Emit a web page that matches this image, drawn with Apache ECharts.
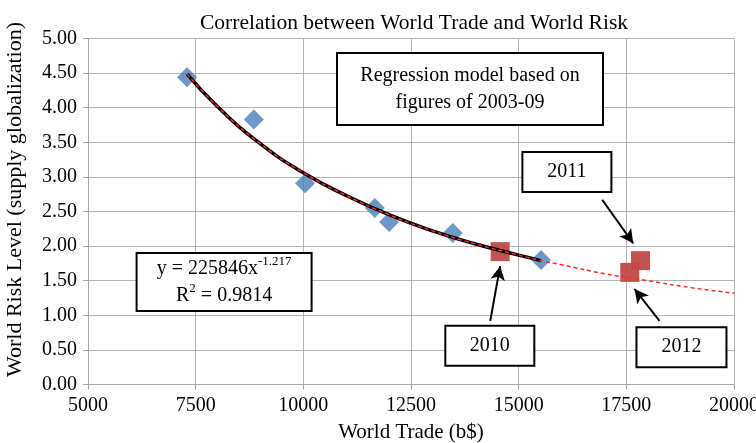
<!DOCTYPE html>
<html>
<head>
<meta charset="utf-8">
<script src="https://cdn.jsdelivr.net/npm/echarts@6/dist/echarts.min.js"></script>
<style>
  html, body { margin: 0; padding: 0; background: #fff; }
  #main { width: 756px; height: 443px; }
</style>
</head>
<body>
<div id="main"></div>
<script>
// observed points 2003-09 (world trade b$, risk level)
var tradeObs = [7300, 8850, 10040, 11660, 11990, 13470, 15520];
var riskObs = [4.44, 3.83, 2.91, 2.55, 2.35, 2.19, 1.80];

// later years
var newYears = ['2010', '2011', '2012'];
var tradeNew = [14570, 17830, 17580];
var riskNew = [1.92, 1.79, 1.62];

// fitted curve y = 225846x^-1.217
var fitX = [7300, 8000, 9000, 10000, 11000, 12000, 13000, 14000, 15000, 15520];
var fitY = [4.49, 4.02, 3.48, 3.06, 2.73, 2.45, 2.22, 2.03, 1.87, 1.79];
var extX = [15520, 16000, 17000, 18000, 19000, 20000];
var extY = [1.79, 1.73, 1.60, 1.50, 1.40, 1.32];

var xTicks = [5000, 7500, 10000, 12500, 15000, 17500, 20000];

var serif = '"Liberation Serif", "DejaVu Serif", serif';

function zip(a, b) {
  return a.map(function (v, i) { return [v, b[i]]; });
}

var myChart = echarts.init(document.getElementById('main'));

var option = {
  backgroundColor: '#fff',
  animation: false,
  title: {
    text: 'Correlation between World Trade and World Risk',
    left: 409,
    textAlign: 'center',
    top: 7,
    textStyle: { fontFamily: serif, fontSize: 21.5, fontWeight: 'normal', color: '#000' }
  },
  grid: { left: 88, right: 22, top: 38.5, bottom: 58.5, containLabel: false, outerBoundsMode: 'none' },
  xAxis: {
    type: 'value',
    min: xTicks[0],
    max: xTicks[xTicks.length - 1],
    interval: 2500,
    name: 'World Trade (b$)',
    nameLocation: 'middle',
    nameGap: 37,
    nameTextStyle: { fontFamily: serif, fontSize: 21, color: '#000' },
    axisLine: { show: true, lineStyle: { color: '#a6a6a6' } },
    axisTick: { show: true, length: 5, lineStyle: { color: '#a6a6a6' } },
    axisLabel: {
      fontFamily: serif, fontSize: 20, color: '#000', margin: 11,
      formatter: function (v) { return String(v); }
    },
    splitLine: { show: true, lineStyle: { color: '#b3b3b3' } }
  },
  yAxis: {
    type: 'value',
    min: 0,
    max: 5,
    interval: 0.5,
    name: 'World Risk Level (supply globalization)',
    nameLocation: 'middle',
    nameGap: 62,
    nameTextStyle: { fontFamily: serif, fontSize: 22, color: '#000', padding: [0, 0, 0, 24] },
    axisLine: { show: true, lineStyle: { color: '#a6a6a6' } },
    axisTick: { show: true, length: 5, lineStyle: { color: '#a6a6a6' } },
    axisLabel: {
      fontFamily: serif, fontSize: 20, color: '#000', margin: 11,
      formatter: function (v) { return v.toFixed(2); }
    },
    splitLine: { show: true, lineStyle: { color: '#b3b3b3' } }
  },
  series: [
    {
      name: '2003-09',
      type: 'scatter',
      symbol: 'diamond',
      symbolSize: [20, 20],
      itemStyle: { color: '#4a7ebb' },
      data: zip(tradeObs, riskObs),
      z: 2
    },
    {
      name: '2010-12',
      type: 'scatter',
      symbol: 'rect',
      symbolSize: 19,
      itemStyle: { color: '#be4b48', opacity: 0.95 },
      data: zip(tradeNew, riskNew),
      z: 2,
      markLine: {
        silent: true,
        symbol: ['none', 'arrow'],
        symbolSize: [11, 14],
        label: { show: false },
        lineStyle: { color: '#000', width: 2, type: 'solid' },
        data: [
          [{ coord: [14340, 0.92] }, { coord: [14570, 1.71] }],
          [{ coord: [16940, 2.67] }, { coord: [17660, 2.04] }],
          [{ coord: [18270, 0.92] }, { coord: [17690, 1.38] }]
        ]
      }
    },
    {
      name: 'fit',
      type: 'line',
      smooth: true,
      showSymbol: false,
      lineStyle: { color: '#000', width: 3.5 },
      data: zip(fitX, fitY),
      z: 3
    },
    {
      name: 'fit-red',
      type: 'line',
      smooth: true,
      showSymbol: false,
      lineStyle: { color: '#ff2a2a', width: 1.5, type: [4, 3] },
      data: zip(fitX, fitY).concat(zip(extX, extY).slice(1)),
      z: 4
    }
  ]
};

myChart.setOption(option);

// annotation boxes, placed from data coordinates
function box(cx, cy, w, h, content, rich) {
  var p = myChart.convertToPixel({ gridIndex: 0 }, [cx, cy]);
  return {
    type: 'group',
    x: p[0] - w / 2,
    y: p[1] - h / 2,
    z: 100,
    children: [
      {
        type: 'rect',
        shape: { x: 0, y: 0, width: w, height: h },
        style: { fill: '#fff', stroke: '#000', lineWidth: 2 }
      },
      {
        type: 'text',
        x: w / 2,
        y: h / 2,
        style: {
          text: content,
          rich: rich || {},
          fontFamily: serif,
          fontSize: 20,
          lineHeight: 27,
          fill: '#000',
          align: 'center',
          verticalAlign: 'middle'
        }
      }
    ]
  };
}

var supRich = {
  sup: { fontFamily: serif, fontSize: 13, verticalAlign: 'top', padding: [0, 0, 9, 0] },
  n: { fontFamily: serif, fontSize: 20 }
};

myChart.setOption({
  graphic: [
    box(13870, 4.27, 266, 72, 'Regression model based on\nfigures of 2003-09'),
    box(8160, 1.48, 175, 58,
      '{n|y = 225846x}{sup|-1.217}\n{n|R}{sup|2}{n| = 0.9814}', supRich),
    box(16120, 3.07, 89, 40, newYears[1]),
    box(14330, 0.56, 89, 40, newYears[0]),
    box(18780, 0.54, 90, 40, newYears[2])
  ]
});
</script>
</body>
</html>
